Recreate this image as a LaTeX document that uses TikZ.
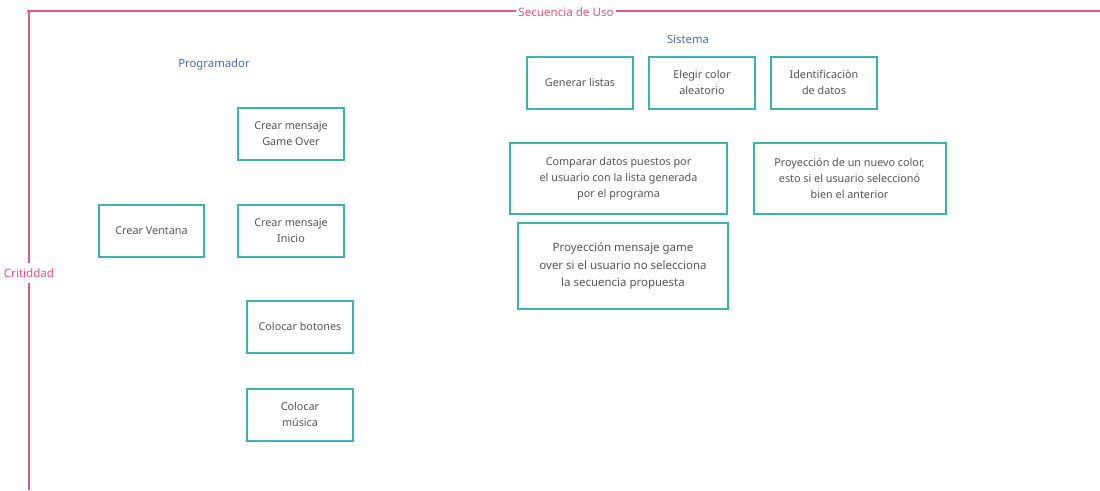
\documentclass[tikz,border=0pt]{standalone}
\usepackage{fontspec}
\setmainfont{Noto Sans}
\usepackage{tikz}
\usetikzlibrary{positioning}
\definecolor{axis}{HTML}{E8557E}
\definecolor{boxline}{HTML}{3BB4AE}
\definecolor{boxtext}{HTML}{555555}
\definecolor{role}{HTML}{4A6DB3}

\begin{document}
\begin{tikzpicture}[x=0.75pt,y=-0.75pt,
  font=\fontsize{8.1}{12}\selectfont,
  card/.style={draw=boxline,line width=1.5pt,fill=white,align=center,text=boxtext,inner sep=2pt,minimum width=79pt,minimum height=39pt},
  wide/.style={card,minimum width=163pt,minimum height=53pt},
  role/.style={text=role,font=\fontsize{8.5}{10}\selectfont},
  axlab/.style={text=axis,fill=white,inner sep=1.5pt,font=\fontsize{8.7}{10}\selectfont},
  ax/.style={draw=axis,line width=1.3pt}]
\useasboundingbox (0,0) rectangle (1100,490);
% axes
\coordinate (xa) at (27,11);
\coordinate (xb) at (1100,11);
\coordinate (ya) at (29,12);
\coordinate (yb) at (29,490);
\draw[ax] (xa) -- (xb);
\draw[ax,line width=1.6pt] (ya) -- (yb);
\node[axlab] (uso) at (566,12) {Secuencia de Uso};
\node[axlab,inner ysep=4pt] (crit) at (29,273) {Critiddad};
% roles
\node[role] (prog) at (214,65) {Programador};
\node[role] (sis) at (688,39) {Sistema};
% programador
\node[card] (gover) at (291,134) {Crear mensaje\\ Game Over};
\node[card] (vent) at (151.5,230.5) {Crear Ventana};
\node[card] (inicio) at (291,230.5) {Crear mensaje\\ Inicio};
\node[card] (botones) at (300,326.5) {Colocar botones};
\node[card] (musica) at (300,414.5) {Colocar\\ música};
% sistema
\node[card] (listas) at (580,82.5) {Generar listas};
\node[card] (color) at (702,82.5) {Elegir color\\ aleatorio};
\node[card] (datos) at (824,82.5) {Identificaciòn\\ de datos};
\node[wide] (comp) at (618.5,178.5) {Comparar datos puestos por\\ el usuario con la lista generada\\ por el programa};
\node[wide,minimum width=144pt] (nuevo) at (849.5,178.5) {Proyección de un nuevo color,\\ esto si el usuario seleccionó\\ bien el anterior};
\node[wide,minimum width=157pt,minimum height=65pt,font=\fontsize{8.6}{12.8}\selectfont] (over) at (623,266) {Proyección mensaje game\\ over si el usuario no selecciona\\ la secuencia propuesta};
\end{tikzpicture}
\end{document}
